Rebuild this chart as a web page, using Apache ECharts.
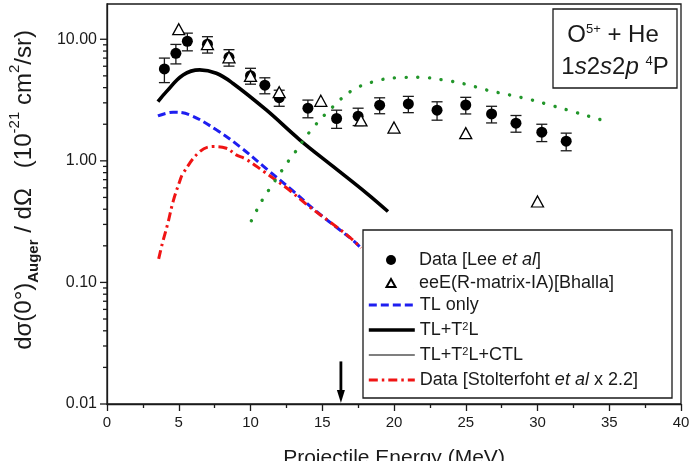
<!DOCTYPE html>
<html>
<head>
<meta charset="utf-8">
<script src="https://cdn.jsdelivr.net/npm/echarts@6/dist/echarts.min.js"></script>
<style>
html, body { margin: 0; padding: 0; background: #fff; }
#main { width: 694px; height: 461px; }
</style>
</head>
<body>
<div id="main"></div>
<script>
// Data [Lee et al] : energy (MeV), cross section, error
var leeE = [4, 4.8, 5.6, 7, 8.5, 10, 11, 12, 14, 16, 17.5, 19, 21, 23, 25, 26.8, 28.5, 30.3, 32];
var leeY = [5.7, 7.67, 9.63, 9.1, 7.11, 5.02, 4.19, 3.31, 2.71, 2.23, 2.33, 2.87, 2.94, 2.61, 2.88, 2.43, 2.04, 1.72, 1.45];
var leeErr = [1.3, 1.4, 1.6, 1.4, 1.1, 0.75, 0.63, 0.5, 0.45, 0.38, 0.38, 0.43, 0.45, 0.45, 0.45, 0.38, 0.32, 0.28, 0.24];

// eeE(R-matrix-IA)[Bhalla]
var bhallaE = [5, 7, 8.5, 10, 12, 14.9, 17.7, 20, 25, 30];
var bhallaY = [12.1, 9.1, 7.1, 5.0, 3.67, 3.12, 2.15, 1.88, 1.69, 0.463];

// TL only
var tlE = [3.55, 4.6, 5.76, 7.62, 9.25, 11.2, 13.0, 14.6, 16.3, 17.1, 17.7];
var tlY = [2.34, 2.51, 2.39, 1.8, 1.31, 0.843, 0.56, 0.383, 0.266, 0.224, 0.192];

// TL+T2L
var t2lE = [3.55, 4.14, 5.3, 6.46, 7.62, 8.76, 11.1, 13.43, 15.75, 18.08, 19.58];
var t2lY = [3.07, 3.71, 5.09, 5.6, 5.25, 4.35, 2.62, 1.49, 0.9, 0.543, 0.383];

// Data [Stolterfoht et al x 2.2]
var stoE = [3.6, 3.86, 4.25, 4.6, 5.07, 5.3, 6.46, 7.39, 8.32, 9.0, 9.7, 10.9, 12.5, 14.1, 15.5, 16.9, 17.7];
var stoY = [0.156, 0.21, 0.31, 0.46, 0.68, 0.79, 1.19, 1.31, 1.27, 1.12, 1.03, 0.82, 0.6, 0.42, 0.317, 0.236, 0.192];

// green dotted curve (not in legend)
var dotE = [10.06, 10.45, 10.87, 11.39, 11.94, 12.45, 13.01, 14.24, 15.75, 17.14, 18.77, 20.28, 21.79, 23.41, 24.93, 26.44, 28.06, 29.58, 31.08, 32.64, 34.22, 34.91];
var dotY = [0.321, 0.396, 0.487, 0.603, 0.753, 0.927, 1.135, 1.8, 2.79, 3.83, 4.54, 4.83, 4.87, 4.63, 4.29, 3.83, 3.48, 3.17, 2.83, 2.51, 2.21, 2.1];

// arrow marker: energy, top, tip
var arrowData = [[16.3, 0.0224, 0.0102]];

// y axis ticks (log)
var yMajor = [0.01, 0.1, 1, 10];
var yMinor = [0.02, 0.03, 0.04, 0.05, 0.06, 0.07, 0.08, 0.09,
              0.2, 0.3, 0.4, 0.5, 0.6, 0.7, 0.8, 0.9,
              2, 3, 4, 5, 6, 7, 8, 9];

var legendText = {
    lee: 'Data [Lee {i|et al}]',
    bhalla: 'eeE(R-matrix-IA)[Bhalla]',
    tl: 'TL only',
    t2l: 'TL+T{sup|2}L',
    ctl: 'TL+T{sup|2}L+CTL',
    sto: 'Data [Stolterfoht {i|et al} x 2.2]'
};

function pairs(a, b) {
    return a.map(function (v, i) { return [v, b[i]]; });
}

var FONT = '"Liberation Sans", Arial, sans-serif';
var INK = '#1a1a1a';

var tickData = [];
yMajor.forEach(function (v) { tickData.push([0, v, 7]); });
yMinor.forEach(function (v) { tickData.push([0, v, 4]); });

var errData = leeE.map(function (v, i) { return [v, leeY[i], leeErr[i]]; });

// small open triangle, padded to the full 46x10 legend slot so it is not stretched
var triIcon = 'path://M0,0L0.01,0M46,10L46.01,10M23,1L27.5,9L18.5,9Z';

var legendTextStyle = {
    fontFamily: FONT,
    fontSize: 18,
    color: INK,
    lineHeight: 18,
    rich: {
        i: { fontFamily: FONT, fontSize: 18, fontStyle: 'italic', color: INK },
        sup: { fontFamily: FONT, fontSize: 11, color: INK, verticalAlign: 'top', lineHeight: 11 }
    }
};

var chart = echarts.init(document.getElementById('main'));

var option = {
    animation: false,
    backgroundColor: '#fff',
    grid: {
        left: 107, right: 13, top: 4, bottom: 57,
        show: true, borderColor: INK, borderWidth: 1.3
    },
    xAxis: {
        type: 'value',
        min: 0, max: 40, interval: 5,
        axisLine: { lineStyle: { color: INK, width: 1.3 } },
        axisTick: { length: 7, lineStyle: { color: INK, width: 1.3 } },
        minorTick: { show: true, splitNumber: 2, length: 4, lineStyle: { color: INK, width: 1.3 } },
        splitLine: { show: false },
        axisLabel: { fontFamily: FONT, fontSize: 15, color: INK, margin: 11 }
    },
    yAxis: {
        type: 'log', logBase: 10,
        min: 0.01, max: 19.5,
        axisLine: { show: true, lineStyle: { color: INK, width: 1.3 } },
        axisTick: { show: false },
        splitLine: { show: false },
        axisLabel: {
            fontFamily: FONT, fontSize: 16, color: INK, margin: 10,
            formatter: function (v) {
                var l = Math.log10(v);
                if (Math.abs(l - Math.round(l)) > 1e-6) return '';
                return Math.pow(10, Math.round(l)).toFixed(2);
            }
        }
    },
    legend: [{
        data: ['lee', { name: 'bhalla', icon: triIcon }],
        orient: 'vertical', left: 367, top: 251, padding: 0,
        itemWidth: 46, itemHeight: 10, itemGap: 5,
        symbolKeepAspect: false,
        selectedMode: false, z: 6,
        formatter: function (n) { return legendText[n]; },
        textStyle: legendTextStyle
    }, {
        data: ['tl', 't2l', 'ctl', 'sto'],
        orient: 'vertical', left: 367, top: 296, padding: 0,
        itemWidth: 46, itemHeight: 14, itemGap: 7,
        itemStyle: { opacity: 0 },
        lineStyle: { width: 'inherit' },
        selectedMode: false, z: 6,
        formatter: function (n) { return legendText[n]; },
        textStyle: legendTextStyle
    }],
    graphic: [
        // legend frame
        { type: 'rect', z: 5, shape: { x: 363, y: 230, width: 309, height: 168 },
          style: { fill: '#fff', stroke: INK, lineWidth: 1.3 } },
        // title box
        { type: 'rect', z: 5, shape: { x: 553, y: 9, width: 124, height: 79 },
          style: { fill: '#fff', stroke: INK, lineWidth: 1.3 } },
        { type: 'text', z: 6, x: 613, y: 35,
          style: {
              text: 'O{sup|5+} + He', fontFamily: FONT, fontSize: 24, fill: INK,
              align: 'center', verticalAlign: 'middle',
              rich: { sup: { fontFamily: FONT, fontSize: 13, verticalAlign: 'top', lineHeight: 13, fill: INK } }
          } },
        { type: 'text', z: 6, x: 615, y: 67,
          style: {
              text: '1{i|s}2{i|s}2{i|p} {sup|4}P', fontFamily: FONT, fontSize: 24, fill: INK,
              align: 'center', verticalAlign: 'middle',
              rich: {
                  i: { fontFamily: FONT, fontSize: 24, fontStyle: 'italic', fill: INK },
                  sup: { fontFamily: FONT, fontSize: 13, verticalAlign: 'top', lineHeight: 13, fill: INK }
              }
          } },
        // y axis title
        { type: 'text', x: 24, y: 190, rotation: Math.PI / 2,
          style: {
              text: '{a|d\u03c3(0\u00b0)}{sub|Auger}{a| / d\u03a9   (10}{sup|-21}{a| cm}{sup|2}{a|/sr)}',
              align: 'center', verticalAlign: 'middle',
              rich: {
                  a: { fontFamily: FONT, fontSize: 24, lineHeight: 34, fill: INK },
                  sub: { fontFamily: FONT, fontSize: 15, fontWeight: 'bold', lineHeight: 15, verticalAlign: 'bottom', fill: INK },
                  sup: { fontFamily: FONT, fontSize: 15, lineHeight: 15, verticalAlign: 'top', fill: INK }
              }
          } },
        // x axis title
        { type: 'text', x: 394, y: 458,
          style: {
              text: 'Projectile Energy (MeV)', fontFamily: FONT, fontSize: 21, fill: INK,
              align: 'center', verticalAlign: 'middle'
          } }
    ],
    series: [{
        // y axis ticks, major and minor (log axis)
        type: 'custom', name: 'yticks', silent: true, z: 3,
        data: tickData,
        renderItem: function (params, api) {
            var p = api.coord([api.value(0), api.value(1)]);
            var len = api.value(2);
            return { type: 'line', shape: { x1: p[0] - len, y1: p[1], x2: p[0], y2: p[1] },
                     style: { stroke: INK, lineWidth: 1.3 } };
        }
    }, {
        type: 'custom', name: 'errbars', silent: true, z: 2,
        data: errData,
        renderItem: function (params, api) {
            var x = api.value(0), y = api.value(1), e = api.value(2);
            var t = api.coord([x, y + e]);
            var b = api.coord([x, y - e]);
            var w = 5.5;
            var st = { stroke: INK, lineWidth: 1.3 };
            return { type: 'group', children: [
                { type: 'line', shape: { x1: t[0], y1: t[1], x2: b[0], y2: b[1] }, style: st },
                { type: 'line', shape: { x1: t[0] - w, y1: t[1], x2: t[0] + w, y2: t[1] }, style: st },
                { type: 'line', shape: { x1: b[0] - w, y1: b[1], x2: b[0] + w, y2: b[1] }, style: st }
            ] };
        }
    }, {
        name: 'lee', type: 'scatter', z: 3,
        symbol: 'circle', symbolSize: 11,
        itemStyle: { color: '#000', opacity: 1 },
        data: pairs(leeE, leeY)
    }, {
        name: 'bhalla', type: 'scatter', z: 4,
        symbol: 'triangle', symbolSize: [12, 11],
        itemStyle: { color: '#fff', borderColor: '#000', borderWidth: 1.3, opacity: 1 },
        data: pairs(bhallaE, bhallaY)
    }, {
        name: 'tl', type: 'line', symbol: 'none', smooth: 0.4, z: 2,
        lineStyle: { color: '#1e1ef0', width: 3, type: [8, 4] },
        itemStyle: { color: '#1e1ef0' },
        data: pairs(tlE, tlY)
    }, {
        name: 't2l', type: 'line', symbol: 'none', smooth: 0.4, z: 2,
        lineStyle: { color: '#000', width: 3.6 },
        itemStyle: { color: '#000' },
        data: pairs(t2lE, t2lY)
    }, {
        name: 'ctl', type: 'line', symbol: 'none', z: 2,
        lineStyle: { color: '#000', width: 1.2 },
        itemStyle: { color: '#000' },
        data: []
    }, {
        name: 'sto', type: 'line', symbol: 'none', smooth: 0.4, z: 2,
        lineStyle: { color: '#f01414', width: 3, type: [9, 4, 2.5, 4] },
        itemStyle: { color: '#f01414' },
        data: pairs(stoE, stoY)
    }, {
        name: 'green', type: 'line', symbol: 'none', smooth: 0.4, z: 2,
        lineStyle: { color: '#22962a', width: 3.4, type: [0.1, 11.6], cap: 'round' },
        data: pairs(dotE, dotY)
    }, {
        // arrow at 16.3 MeV
        type: 'custom', name: 'arrow', silent: true, z: 3,
        data: arrowData,
        renderItem: function (params, api) {
            var x = api.value(0);
            var top = api.coord([x, api.value(1)]);
            var tip = api.coord([x, api.value(2)]);
            return { type: 'group', children: [
                { type: 'line', shape: { x1: top[0], y1: top[1], x2: tip[0], y2: tip[1] - 11 },
                  style: { stroke: '#000', lineWidth: 2.8 } },
                { type: 'polygon', shape: { points: [[tip[0] - 4, tip[1] - 13], [tip[0] + 4, tip[1] - 13], [tip[0], tip[1]]] },
                  style: { fill: '#000' } }
            ] };
        }
    }]
};

chart.setOption(option);
</script>
</body>
</html>
